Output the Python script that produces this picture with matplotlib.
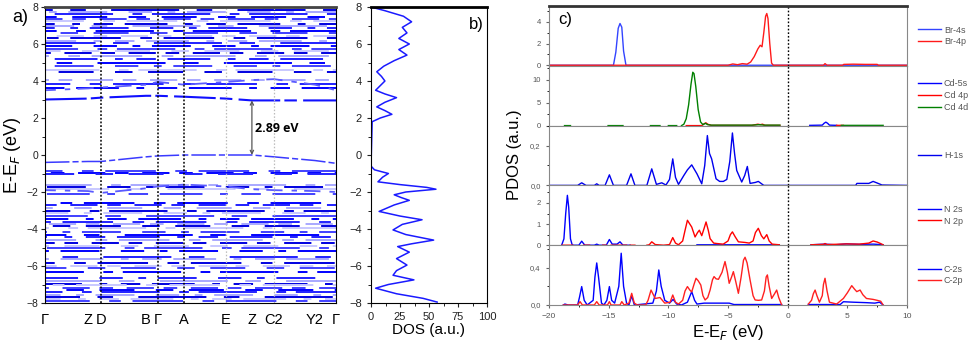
import numpy as np
import matplotlib
matplotlib.use('Agg')
import matplotlib.pyplot as plt
from matplotlib.ticker import MultipleLocator

plt.rcParams['font.family'] = ['Liberation Sans', 'DejaVu Sans']
nan = np.nan

# a) band structure
k_labels = ['Γ', 'Z', 'D', 'B', 'Γ', 'A', 'E', 'Z', 'C2', 'Y2', 'Γ']
k_nodes = [0.0, 0.148, 0.192, 0.347, 0.388, 0.478, 0.622, 0.711, 0.787, 0.928, 1.0]
k_lines_dark = [2, 4, 5]
k_lines_light = [6, 8]

flat_bands = [3.6, 3.85, 4.05, 4.5, 4.62, 4.8, 5.0, 5.2, 5.35, 5.5, 5.62, 5.75, 5.9,
              6.05, 6.15, 6.3, 6.45, 6.6, 6.72, 6.85, 6.98, 7.1, 7.22, 7.35, 7.48,
              7.6, 7.72, 7.85, 7.95,
              -0.85, -0.95, -1.05, -1.6, -1.72, -1.85, -2.1, -2.6, -2.72,
              -2.85, -3.0, -3.12, -3.3, -3.45, -3.6, -3.72, -3.82, -3.95, -4.15,
              -4.3, -4.45, -4.62, -4.75, -4.9, -5.05, -5.2, -5.5, -5.62, -5.85,
              -5.98, -6.1, -6.3, -6.65, -6.8, -6.95, -7.05, -7.2, -7.3, -7.42,
              -7.55, -7.68, -7.8, -7.9]
# dispersive bands, energies at the k nodes
vbm_band = [-0.4, -0.35, -0.35, -0.1, -0.05, 0.0, 0.0, 0.0, -0.1, -0.3, -0.45]
cbm_band = [3.0, 3.05, 3.1, 3.2, 3.2, 3.15, 3.05, 2.95, 2.95, 2.95, 2.95]
cb2_band = [3.5, 3.6, 3.65, 3.8, 3.95, 3.8, 3.95, 4.05, 4.1, 3.8, 3.5]
vb2_band = [-1.9, -1.95, -2.05, -1.8, -1.7, -1.6, -1.7, -1.85, -1.9, -1.95, -2.0]
gap = 2.89

# b) total DOS
dos_energy = [8.0, 7.8, 7.5, 7.2, 6.9, 6.6, 6.3, 6.0, 5.7, 5.4, 5.1, 4.8, 4.5, 4.25, 4.0,
              3.75, 3.5, 3.3, 3.1, 2.85, 2.6, 2.4, 2.2, 2.0, 1.8, -0.6, -0.8, -1.0,
              -1.2, -1.45, -1.6, -1.75, -1.85, -2.0, -2.15, -2.3, -2.45, -2.7, -3.05,
              -3.3, -3.5, -3.75, -4.05, -4.3, -4.6, -4.8, -4.95, -5.1, -5.25, -5.6,
              -5.95, -6.25, -6.5, -6.75, -7.0, -7.2, -7.5, -7.75, -7.95]
dos_values = [0, 12, 28, 35, 27, 31, 24, 33, 24, 31, 20, 11, 5, 9, 12, 8, 4, 12, 22, 12,
              5, 12, 18, 8, 1, 0, 3, 15, 10, 6, 25, 48, 56, 30, 20, 26, 33, 20, 7, 25,
              44, 27, 19, 30, 54, 35, 23, 28, 33, 22, 31, 22, 19, 37, 15, 4, 22, 45, 57]

# c) projected DOS
br4s_e = [-20, -14.6, -14.4, -14.2, -14.05, -13.9, -13.75, -13.55, 10]
br4s_v = [0, 0, 1.2, 3.4, 3.84, 3.5, 1.3, 0, 0]
br4p_e = [-20, -5.0, -4.6, -4.2, -3.8, -3.4, -3.1, -2.8, -2.5, -2.3, -2.15, -2.0, -1.85,
          -1.75, -1.65, -1.5, -1.35, -1.2, 3.0, 3.13, 3.3, 4.6, 4.7, 5.5, 6.5, 7.5, 7.6, 10]
br4p_v = [0, 0, 0.12, 0.05, 0.15, 0.1, 0.3, 0.8, 1.5, 1.84, 1.7, 3.0, 4.5, 4.76, 4.3,
          2.0, 0.2, 0, 0, 0.15, 0, 0, 0.08, 0.1, 0.08, 0.08, 0, 0]

cd5s_e = [1.85, 2.9, 3.05, 3.2, 3.35, 3.5, 4.1]
cd5s_v = [0.05, 0.1, 0.5, 0.75, 0.5, 0.1, 0.05]
cd4p_e = [-8.5, -7.2, -7.0, -6.85, -6.7, -6.4, -3.0, -2.5, -2.3, -2.1, -1.9, -0.65, nan, 4.1, 4.67]
cd4p_v = [0, 0, 0.4, 0.6, 0.3, 0.05, 0.05, 0.3, 0.2, 0.3, 0.05, 0.05, nan, 0.05, 0.05]
cd4d_e = [-18.7, -18.2, nan, -15.05, -13.8, nan, -11.5, -10.7, nan, -10.0, -9.3, nan,
          -8.9, -8.7, -8.5, -8.3, -8.1, -7.95, -7.85, -7.7, -7.5, -7.3, -7.1, -6.9, -6.7,
          -6.4, -5.0, -3.0, -2.35, -2.0, -0.65, nan, 4.5, 8.0]
cd4d_v = [0, 0, nan, 0, 0, nan, 0, 0, nan, 0, 0, nan,
          0, 0.3, 1.5, 4.5, 9.0, 11.6, 11.3, 8.5, 3.5, 0.8, 0.2, 0.5, 0.2,
          0.1, 0.1, 0.1, 0.2, 0.1, 0.1, nan, 0.05, 0.05]

h1s_e = [-20, -17.6, -17.26, -16.9, -16.2, -16.0, -15.8, -15.3, -14.94, -14.6, -13.5,
         -13.13, -12.8, -11.8, -11.39, -11.0, -10.55, -10.2, -9.9, -9.63, -9.4, -9.15,
         -8.7, -8.4, -8.04, -7.6, -7.2, -6.95, -6.73, -6.55, -6.37, -6.0, -5.7, -5.39,
         -5.1, -4.85, -4.63, -4.45, -4.27, -3.85, -3.6, -3.38, -3.15, -2.7, -2.46, -2.0,
         5.7, 5.8, 6.8, 7.16, 7.5, 7.9, 10]
h1s_v = [0, 0, 0.013, 0, 0, 0.008, 0, 0, 0.053, 0, 0, 0.058, 0, 0, 0.083, 0.005, 0.013,
         0.002, 0.03, 0.133, 0.04, 0.005, 0.05, 0.078, 0.103, 0.058, 0.008, 0.1, 0.25,
         0.16, 0.133, 0.033, 0.02, 0.02, 0.03, 0.12, 0.263, 0.16, 0.075, 0.017, 0.05,
         0.095, 0.01, 0.015, 0.02, 0, 0, 0.01, 0.01, 0.02, 0.012, 0.002, 0]

n2s_e = [-18.94, -18.75, -18.6, -18.46, -18.35, -18.2, -18.05, -17.5, -17.26, -17.0,
         -16.2, -16.0, -15.8, -15.2, -14.94, -14.7, -14.3, -14.05, -13.8, -13.2, nan,
         -7.6, -0.7, nan, 1.95, 3.13, 4.0, 4.9, 6.0, 7.2, 8.0]
n2s_v = [0, 0.3, 1.5, 2.36, 1.8, 0.3, 0, 0, 0.19, 0, 0, 0.05, 0, 0, 0.27, 0.05, 0.05,
         0.16, 0, 0, nan, 0.02, 0.02, nan, 0.02, 0.05, 0.02, 0.06, 0.04, 0.05, 0.02]
n2p_e = [-18.9, -18.0, nan, -17.1, -16.6, nan, -15.5, -15.2, nan, -14.8, -13.5, nan,
         -13.2, -12.8, nan, -11.8, -11.6, -11.39, -11.1, -10.4, -9.9, -9.63, -9.4, -9.15,
         -8.8, -8.6, -8.4, -8.2, -8.04, -7.76, -7.55, -7.4, -7.2, -7.0, -6.84, -6.65,
         -6.5, -6.2, -5.95, -5.4, -5.0, -4.8, -4.63, -4.4, -4.13, -3.57, -3.22, -2.9,
         -2.7, -2.46, -2.2, -2.0, -1.75, -1.55, -1.3, -0.7, nan, 1.95, 3.0, 3.13, 3.3,
         4.95, 6.0, 6.8, 7.16, 7.5, 7.7, 8.0]
n2p_v = [0, 0, nan, 0, 0, nan, 0, 0, nan, 0, 0, nan, 0, 0, nan,
         0, 0.02, 0.16, 0.03, 0, 0.03, 0.36, 0.1, 0.02, 0.2, 0.7, 1.18, 1.0, 0.86, 0.39,
         0.6, 0.71, 0.45, 0.8, 1.1, 0.7, 0.31, 0.1, 0.08, 0.05, 0.2, 0.5, 0.63, 0.4,
         0.16, 0.13, 0.1, 0.2, 0.6, 0.8, 0.45, 0.3, 0.5, 0.2, 0.05, 0.02, nan,
         0.02, 0.04, 0.08, 0.03, 0.06, 0.05, 0.1, 0.2, 0.15, 0.1, 0.02]

c2s_e = [-18.8, -18.67, -18.4, -17.6, -17.45, -17.26, -17.05, -16.8, -16.3, -16.15,
         -16.0, -15.85, -15.6, -15.4, -15.15, -14.94, -14.75, -14.5, -14.15, -13.95,
         -13.75, -13.5, -13.3, -13.07, -12.85, -11.3, -11.0, -10.8, -10.6, -10.3, -9.9,
         -9.6, -9.3, -8.9, -8.4, -8.04, -7.8, -7.6, -7.0, -4.9, -4.5, -0.5, nan, 1.73,
         4.4, 4.67, 5.5, 6.6, 7.3, 7.7, 8.0]
c2s_v = [0, 0.01, 0, 0, 0.08, 0.197, 0.05, 0, 0.05, 0.3, 0.45, 0.3, 0.02, 0, 0.05,
         0.197, 0.05, 0.02, 0.2, 0.554, 0.2, 0.02, 0, 0.1, 0, 0.02, 0.15, 0.375, 0.2,
         0.05, 0.02, 0.06, 0.01, 0, 0.03, 0.143, 0.05, 0.01, 0.02, 0.02, 0.005, 0.005,
         nan, 0.005, 0.005, 0.035, 0.03, 0.025, 0.02, 0.03, 0]
c2p_e = [-18.8, -17.6, -17.4, -17.2, -16.2, -16.0, -15.8, -15.1, -14.94, -14.8, -14.05,
         -13.9, -13.7, -13.3, -13.07, -12.85, -12.6, -11.9, -11.7, -11.45, -11.1, -10.7,
         -10.3, -9.85, -9.63, -9.4, -9.15, -8.8, -8.6, -8.4, -8.2, -8.04, -7.85, -7.68,
         -7.5, -7.28, -7.1, -6.92, -6.7, -6.5, -6.3, -6.17, -6.0, -5.8, -5.5, -5.25,
         -5.05, -4.9, -4.7, -4.55, -4.35, -4.13, -3.9, -3.7, -3.57, -3.4, -3.15, -2.9,
         -2.73, -2.45, -2.18, -1.95, -1.8, -1.7, -1.55, -1.34, -1.1, -0.92, -0.75, -0.5,
         nan, 1.73, 2.0, 2.15, 2.3, 2.45, 2.66, 2.9, 3.0, 3.13, 3.3, 3.5, 4.1, 4.67,
         5.0, 5.37, 5.6, 5.79, 6.07, 6.3, 6.6, 7.16, 7.5, 7.8, 8.0]
c2p_v = [0, 0, 0.036, 0, 0, 0.036, 0, 0, 0.036, 0, 0, 0.036, 0, 0.02, 0.125, 0.02, 0,
         0, 0.05, 0.16, 0.07, 0.08, 0.02, 0.03, 0.107, 0.03, 0.01, 0.05, 0.15, 0.197,
         0.16, 0.14, 0.22, 0.286, 0.26, 0.214, 0.1, 0.054, 0.08, 0.16, 0.27, 0.304,
         0.28, 0.275, 0.35, 0.465, 0.35, 0.232, 0.3, 0.357, 0.25, 0.125, 0.3, 0.48,
         0.511, 0.45, 0.268, 0.1, 0.054, 0.05, 0.054, 0.15, 0.3, 0.322, 0.2, 0.07, 0.12,
         0.16, 0.08, 0, nan, 0.01, 0.05, 0.12, 0.16, 0.1, 0.03, 0.1, 0.22, 0.286, 0.15,
         0.03, 0.01, 0.07, 0.13, 0.207, 0.17, 0.143, 0.16, 0.11, 0.07, 0.06, 0.05, 0.04, 0]

groups = [
    [('Br-4s', br4s_e, br4s_v, '#3344ff'), ('Br-4p', br4p_e, br4p_v, '#ff1a1a')],
    [('Cd-5s', cd5s_e, cd5s_v, '#0000ff'), ('Cd 4p', cd4p_e, cd4p_v, '#ff0000'),
     ('Cd 4d', cd4d_e, cd4d_v, '#008000')],
    [('H-1s', h1s_e, h1s_v, '#0000ee')],
    [('N 2s', n2s_e, n2s_v, '#0000ff'), ('N 2p', n2p_e, n2p_v, '#ff0000')],
    [('C-2s', c2s_e, c2s_v, '#0000ff'), ('C-2p', c2p_e, c2p_v, '#ff2020')],
]
ylims = [(-0.05, 5.45), (0, 13.0), (0, 0.3), (0, 2.83), (0, 0.64)]
yticks = [[0, 2, 4], [0, 5, 10], [0, 0.2], [0, 1, 2], [0, 0.4]]
yminor = [1, 2.5, 0.1, 0.5, 0.2]

fig = plt.figure(figsize=(9.8, 3.44), dpi=100)
W, H = 980.0, 344.0


def box(x0, y0, x1, y1):
    return [x0 / W, 1 - y1 / H, (x1 - x0) / W, (y1 - y0) / H]


# ---------------- panel a
ax = fig.add_axes(box(45, 7, 336, 303))
dash_pats = [(10, 6, 22, 9, 4, 7), (26, 10, 6, 6), (7, 7, 14, 5), (18, 11, 9, 8),
             (5, 5, 30, 10), (12, 8, 4, 6, 20, 11), (35, 9, 8, 13)]
blues = ['#0000ff', '#2020ff', '#a8a8ff', '#0000e0', '#c8c8ff', '#4040ff']
for i, e in enumerate(flat_bands):
    pat = dash_pats[i % len(dash_pats)]
    ax.plot([k_nodes[0], k_nodes[-1]], [e, e], color=blues[i % len(blues)], lw=1.4,
            ls=((i * 13) % 40, pat), dash_capstyle='butt')
ax.plot(k_nodes, vbm_band, color='#3a3aff', lw=1.1, ls=(0, (16, 2, 4, 2)))
ax.plot(k_nodes, cbm_band, color='#1010ff', lw=1.5, ls=(0, (20, 2, 6, 3)))
for band in (cb2_band, vb2_band):
    ax.plot(k_nodes, band, color='#5a5aff', lw=1.3, ls=(3, (9, 5, 3, 4)))
for i in k_lines_dark:
    ax.axvline(k_nodes[i], color='black', ls=(0, (1.2, 1.2)), lw=1.1)
for i in k_lines_light:
    ax.axvline(k_nodes[i], color='#bbbbbb', ls=(0, (1.2, 1.5)), lw=0.9)
kz = k_nodes[7]
ax.annotate('', xy=(kz, min(cbm_band)), xytext=(kz, max(vbm_band)),
            arrowprops=dict(arrowstyle='<->', color='#555555', lw=0.9,
                            shrinkA=0, shrinkB=0, mutation_scale=6))
ax.text(kz + 0.012, 1.45, f'{gap:.2f} eV', fontsize=9, fontweight='bold',
        va='center', ha='left', family=['Open Sans', 'DejaVu Sans'])
ax.set_xlim(k_nodes[0], k_nodes[-1])
ax.set_ylim(-8, 8)
ax.set_xticks(k_nodes)
ax.set_xticklabels(k_labels, fontsize=10.5)
ax.tick_params(axis='x', length=0, pad=7)
ax.yaxis.set_major_locator(MultipleLocator(2))
ax.yaxis.set_minor_locator(MultipleLocator(1))
ax.tick_params(axis='y', direction='out', labelsize=7.5, length=3, pad=2, colors='#222222')
ax.tick_params(axis='y', which='minor', length=2)
ax.set_ylabel('E-E$_F$ (eV)', fontsize=13)
ax.yaxis.set_label_coords(-0.075, 0.5)
ax.spines['top'].set_linewidth(2)
ax.spines['top'].set_color('#444444')
fig.text(0.012, 0.935, 'a)', fontsize=13)

# ---------------- panel b
axb = fig.add_axes(box(371, 7, 487, 303))
axb.plot(dos_values, dos_energy, color='#1a1aff', lw=1.1)
axb.set_xlim(0, 100)
axb.set_ylim(-8, 8)
axb.xaxis.set_major_locator(MultipleLocator(25))
axb.xaxis.set_minor_locator(MultipleLocator(12.5))
axb.yaxis.set_major_locator(MultipleLocator(2))
axb.yaxis.set_minor_locator(MultipleLocator(1))
axb.tick_params(direction='out', labelsize=8, length=3, colors='#222222')
axb.tick_params(which='minor', length=2)
axb.set_xlabel('DOS (a.u.)', fontsize=11, labelpad=1)
axb.spines['top'].set_linewidth(2)
axb.text(0.97, 0.965, 'b)', transform=axb.transAxes, fontsize=12, ha='right', va='top')

# ---------------- panel c
top, bot = 6, 305
step = (bot - top) / len(groups)
axes_c = []
for gi, grp in enumerate(groups):
    a = fig.add_axes(box(549, top + gi * step, 907, top + (gi + 1) * step))
    axes_c.append(a)
    for name, e, v, col in grp:
        a.plot(e, v, color=col, lw=1.0, label=name)
    a.axvline(0, color='black', ls=(0, (1.2, 1.4)), lw=1.0)
    a.set_xlim(-20, 10)
    a.set_ylim(*ylims[gi])
    a.set_yticks(yticks[gi])
    if gi in (2, 4):
        a.set_yticklabels([f'{t:.1f}'.replace('.', ',') for t in yticks[gi]])
    a.yaxis.set_minor_locator(MultipleLocator(yminor[gi]))
    a.tick_params(axis='y', direction='out', labelsize=5.5, length=2.5, colors='#666666',
                  labelcolor='#555555')
    a.tick_params(axis='y', which='minor', length=1.5)
    for s in a.spines.values():
        s.set_color('#888888')
        s.set_linewidth(0.8)
    if gi < len(groups) - 1:
        a.tick_params(axis='x', bottom=False, labelbottom=False)
    leg = a.legend(loc='center left', bbox_to_anchor=(1.03, 0.5), frameon=False,
                   fontsize=6.5, handlelength=2.6, handletextpad=0.3, labelspacing=0.3,
                   borderaxespad=0, borderpad=0)
    for t in leg.get_texts():
        t.set_color('#555555')
axes_c[0].spines['top'].set_linewidth(2)
axes_c[0].spines['top'].set_color('#333333')
axes_c[0].text(0.025, 0.9, 'c)', transform=axes_c[0].transAxes, fontsize=12, va='top')
ab = axes_c[-1]
ab.xaxis.set_major_locator(MultipleLocator(5))
ab.xaxis.set_minor_locator(MultipleLocator(2.5))
ab.tick_params(axis='x', direction='out', labelsize=6, length=2.5, colors='#666666',
               labelcolor='#555555')
ab.tick_params(axis='x', which='minor', length=1.5)
ab.set_xlabel('E-E$_F$ (eV)', fontsize=12, labelpad=2)
fig.text(515 / W, 1 - 155 / H, 'PDOS (a.u.)', fontsize=12, rotation=90,
         ha='center', va='center')

fig.savefig('out.png', dpi=100)
